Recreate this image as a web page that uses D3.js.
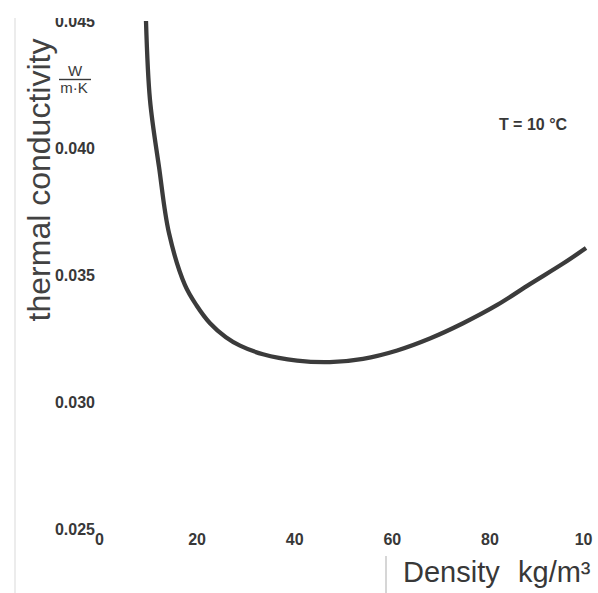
<!DOCTYPE html>
<html>
<head>
<meta charset="utf-8">
<script src="https://cdn.jsdelivr.net/npm/d3@7"></script>
<style>
  html, body { margin: 0; padding: 0; background: #fff; }
  svg { display: block; }
  .tick text { font-family: "Liberation Sans", Arial, sans-serif; font-size: 16px; font-weight: bold; fill: #383838; }
</style>
</head>
<body>
<script>
// ---- data ----
const density = [9.63, 10.45, 12.3, 14.34, 17.62, 20, 22.75, 26, 28.9, 33.6, 40.6, 47.3, 54.1, 61.1, 67.8, 74.6, 81.6, 88.3, 95.1, 99.8];
const conductivity = [0.04500, 0.04189, 0.03925, 0.03665, 0.03460, 0.03380, 0.03310, 0.03255, 0.03222, 0.03188, 0.03163, 0.03157, 0.03170, 0.03203, 0.03250, 0.03310, 0.03382, 0.03464, 0.03545, 0.03606];
const xTicks = [0, 20, 40, 60, 80, 100];
const xTickLabels = ["0", "20", "40", "60", "80", "10"];
const yTicks = [0.025, 0.030, 0.035, 0.040, 0.045];
const yTickLabels = ["0.025", "0.030", "0.035", "0.040", "0.045"];
const xTitleMain = "Density";
const xTitleUnit = "kg/m\u00B3";
const yTitle = "thermal conductivity";
const unitTop = "W";
const unitBottom = "m\u00B7K";
const note = "T = 10 °C";

const W = 598, H = 593;
const FONT = "'Liberation Sans', Arial, sans-serif";
const svg = d3.select("body").append("svg").attr("width", W).attr("height", H);

svg.append("defs").append("clipPath").attr("id", "page")
  .append("rect").attr("x", 0).attr("y", 18).attr("width", 593).attr("height", H - 18);

const g = svg.append("g").attr("clip-path", "url(#page)");

const x = d3.scaleLinear().domain([0, 100]).range([99, 587]);
const y = d3.scaleLinear().domain([0.025, 0.045]).range([529, 21]);

// faint scan edge on the left
g.append("line").attr("x1", 15).attr("x2", 15).attr("y1", 0).attr("y2", H)
  .attr("stroke", "#e6e6e6").attr("stroke-width", 1.5);

// y axis (labels only)
const yAxis = g.append("g").attr("transform", "translate(95,0)")
  .call(d3.axisLeft(y).tickValues(yTicks).tickSize(0).tickPadding(0)
    .tickFormat((d, i) => yTickLabels[i]));
yAxis.select(".domain").remove();
yAxis.selectAll(".tick text").attr("dy", "0.36em");

// x axis (labels only)
const xAxis = g.append("g").attr("transform", "translate(0,534)")
  .call(d3.axisBottom(x).tickValues(xTicks).tickSize(0).tickPadding(0)
    .tickFormat((d, i) => xTickLabels[i]));
xAxis.select(".domain").remove();
xAxis.selectAll(".tick text").attr("dy", "0.71em");
// last label is cut by the page edge in the original: keep its visible part inside
xAxis.selectAll(".tick text").filter(d => d === 100).attr("text-anchor", "end").attr("x", 5);

// curve
const line = d3.line().x((d, i) => x(density[i])).y(d => y(d)).curve(d3.curveCatmullRom.alpha(0.5));
g.append("path").datum(conductivity).attr("d", line)
  .attr("fill", "none").attr("stroke", "#3b3b3b").attr("stroke-width", 4.3)
  .attr("stroke-linecap", "butt");

// axis titles
g.append("text").attr("transform", "translate(50,180) rotate(-90)")
  .attr("text-anchor", "middle")
  .style("font-family", FONT).style("font-size", "32px")
  .attr("fill", "#424242").text(yTitle);

const xt = g.append("text").attr("y", 582)
  .style("font-family", FONT).style("font-size", "29px").attr("fill", "#383838");
xt.append("tspan").attr("x", 403).text(xTitleMain);
xt.append("tspan").attr("x", 518).text(xTitleUnit);

g.append("line").attr("x1", 386).attr("x2", 386).attr("y1", 556).attr("y2", H)
  .attr("stroke", "#bbb").attr("stroke-width", 1.2);

// unit fraction
const uf = g.append("g").style("font-family", FONT)
  .style("font-size", "15px").attr("fill", "#3a3a3a").attr("text-anchor", "middle");
uf.append("text").attr("x", 75).attr("y", 76).text(unitTop);
uf.append("line").attr("x1", 59).attr("x2", 91).attr("y1", 79.5).attr("y2", 79.5)
  .attr("stroke", "#3a3a3a").attr("stroke-width", 1.4);
uf.append("text").attr("x", 74).attr("y", 93).text(unitBottom);

// annotation
g.append("text").attr("x", 533).attr("y", 130).attr("text-anchor", "middle")
  .style("font-family", FONT).style("font-size", "16px")
  .style("font-weight", "bold").attr("fill", "#383838").text(note);
</script>
</body>
</html>
